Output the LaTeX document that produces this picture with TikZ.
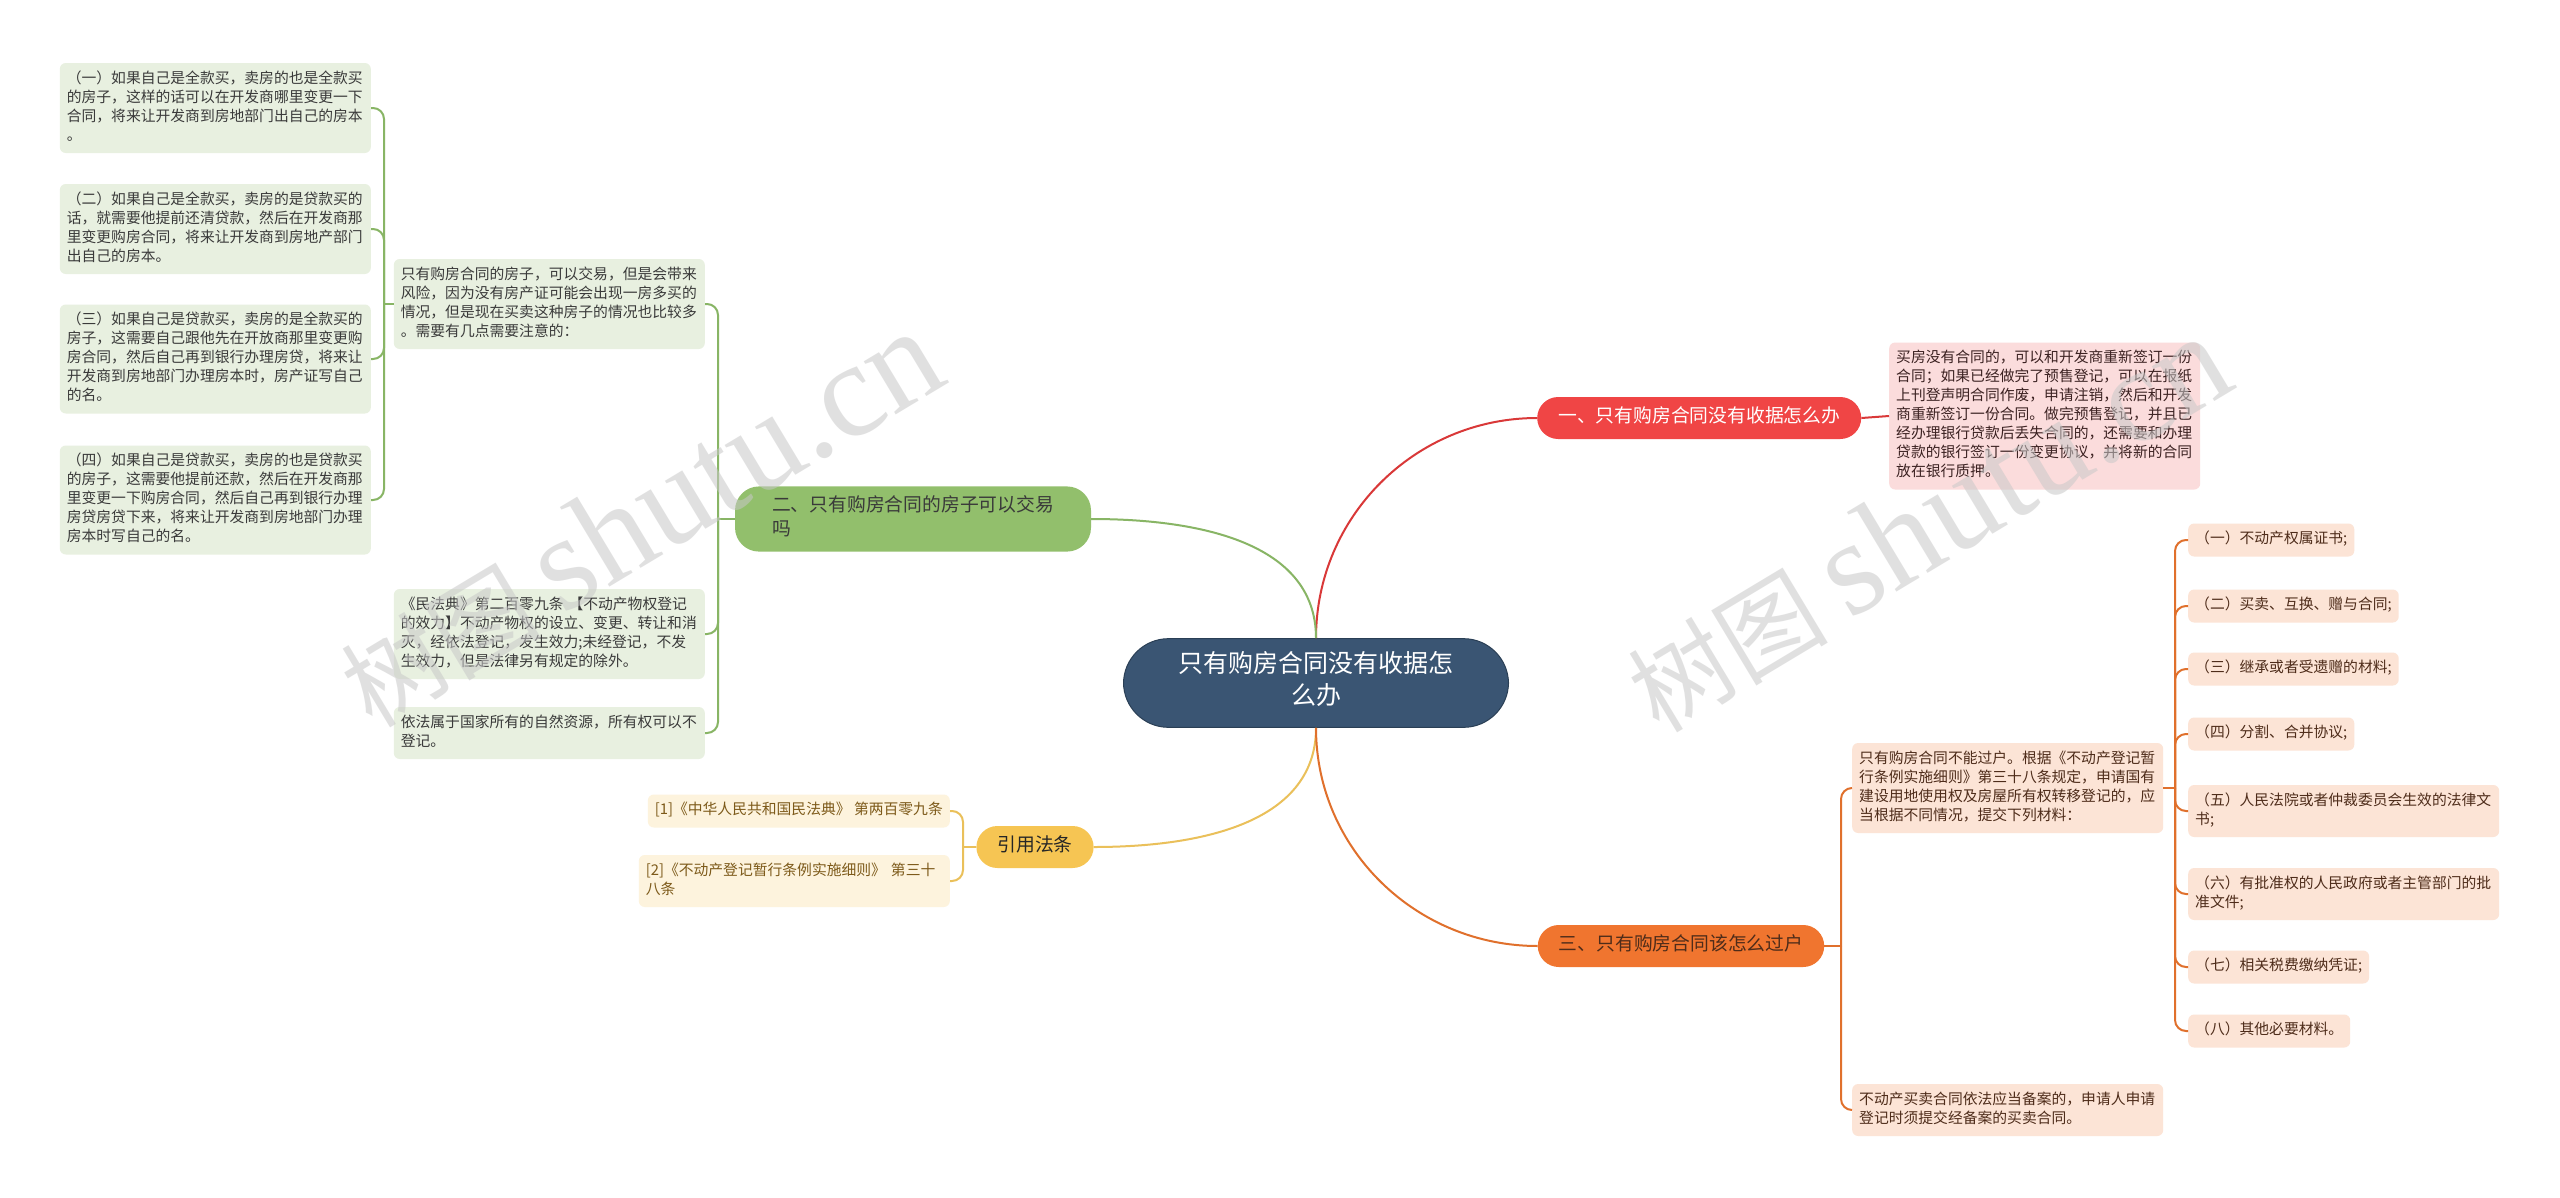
\documentclass[tikz,border=0pt]{standalone}
\usepackage{fontspec}
\setmainfont{Noto Sans CJK SC}
\newfontfamily\markfont{Liberation Serif}
\usepackage{xcolor}
\definecolor{mapRoot}{HTML}{3A5573}
\definecolor{mapRootLine}{HTML}{2A3F55}
\definecolor{mapRed}{HTML}{F04545}
\definecolor{mapRedLine}{HTML}{D93838}
\definecolor{mapRedLeaf}{HTML}{FBDCDC}
\definecolor{mapRedText}{HTML}{3C2222}
\definecolor{mapGreen}{HTML}{92BF6C}
\definecolor{mapGreenLine}{HTML}{88B565}
\definecolor{mapGreenLeaf}{HTML}{E8F0E0}
\definecolor{mapGreenText}{HTML}{3A3A3A}
\definecolor{mapYellow}{HTML}{F6C553}
\definecolor{mapYellowLine}{HTML}{EAC05A}
\definecolor{mapYellowLeaf}{HTML}{FDF3DD}
\definecolor{mapYellowText}{HTML}{7D5A1A}
\definecolor{mapOrange}{HTML}{F0752F}
\definecolor{mapOrangeLine}{HTML}{E0702C}
\definecolor{mapOrangeLeaf}{HTML}{FCE4D6}
\definecolor{mapOrangeText}{HTML}{4E2C1A}
\definecolor{mapMark}{HTML}{C8C8C8}
\usetikzlibrary{positioning}

\tikzset{
  rootnode/.style={fill=mapRoot, draw=mapRootLine, line width=1pt, text=white,
    rounded corners=45pt, inner xsep=55pt, inner ysep=13pt, align=center,
    font=\fontsize{25}{32}\selectfont,
    execute at begin node=\strut, execute at end node=\strut},
  branchnode/.style={rounded corners=21pt, inner xsep=21pt, inner ysep=9pt,
    font=\fontsize{18.8}{24}\selectfont,
    execute at begin node=\strut, execute at end node=\strut},
  leafnode/.style={rounded corners=6pt, inner xsep=7pt, inner ysep=7pt, align=left,
    font=\fontsize{14.8}{19}\selectfont,
    execute at begin node=\strut, execute at end node=\strut},
  wideleaf/.style={text width=297pt},
  conn/.style={line width=2pt},
  marktext/.style={rotate=31, text=mapMark, opacity=0.55}
}

\begin{document}
\begin{tikzpicture}[x=1pt, y=-1pt]
  \useasboundingbox (0,0) rectangle (2560,1197);
  \fill[white] (0,0) rectangle (2560,1197);

  \node[rootnode] (root) at (1316,683) {只有购房合同没有收据怎\\么办};

  % branch one
  \node[branchnode, fill=mapRed, text=white, anchor=west] (brA) at (1537,418) {一、只有购房合同没有收据怎么办};
  \node[leafnode, wideleaf, fill=mapRedLeaf, text=mapRedText, anchor=west] (lfA) at (1889,416)
    {买房没有合同的，可以和开发商重新签订一份\\合同；如果已经做完了预售登记，可以在报纸\\上刊登声明合同作废，申请注销，然后和开发\\商重新签订一份合同。做完预售登记，并且已\\经办理银行贷款后丢失合同的，还需要和办理\\贷款的银行签订一份变更协议，并将新的合同\\放在银行质押。};

  % branch two
  \node[branchnode, fill=mapGreen, text=mapGreenText, align=left, rounded corners=24pt, inner xsep=37pt] (brB) at (913,519) {二、只有购房合同的房子可以交易\\吗};
  \node[leafnode, wideleaf, fill=mapGreenLeaf, text=mapGreenText, anchor=east] (g1) at (705,304)
    {只有购房合同的房子，可以交易，但是会带来\\风险，因为没有房产证可能会出现一房多买的\\情况，但是现在买卖这种房子的情况也比较多\\。需要有几点需要注意的：};
  \node[leafnode, wideleaf, fill=mapGreenLeaf, text=mapGreenText, anchor=east] (g2) at (705,634)
    {《民法典》第二百零九条 【不动产物权登记\\的效力】不动产物权的设立、变更、转让和消\\灭，经依法登记，发生效力;未经登记，不发\\生效力，但是法律另有规定的除外。};
  \node[leafnode, wideleaf, fill=mapGreenLeaf, text=mapGreenText, anchor=east] (g3) at (705,733)
    {依法属于国家所有的自然资源，所有权可以不\\登记。};
  \node[leafnode, wideleaf, fill=mapGreenLeaf, text=mapGreenText, anchor=east] (s1) at (371,108)
    {（一）如果自己是全款买，卖房的也是全款买\\的房子，这样的话可以在开发商哪里变更一下\\合同，将来让开发商到房地部门出自己的房本\\。};
  \node[leafnode, wideleaf, fill=mapGreenLeaf, text=mapGreenText, anchor=east] (s2) at (371,229)
    {（二）如果自己是全款买，卖房的是贷款买的\\话，就需要他提前还清贷款，然后在开发商那\\里变更购房合同，将来让开发商到房地产部门\\出自己的房本。};
  \node[leafnode, wideleaf, fill=mapGreenLeaf, text=mapGreenText, anchor=east] (s3) at (371,359)
    {（三）如果自己是贷款买，卖房的是全款买的\\房子，这需要自己跟他先在开放商那里变更购\\房合同，然后自己再到银行办理房贷，将来让\\开发商到房地部门办理房本时，房产证写自己\\的名。};
  \node[leafnode, wideleaf, fill=mapGreenLeaf, text=mapGreenText, anchor=east] (s4) at (371,500)
    {（四）如果自己是贷款买，卖房的也是贷款买\\的房子，这需要他提前还款，然后在开发商那\\里变更一下购房合同，然后自己再到银行办理\\房贷房贷下来，将来让开发商到房地部门办理\\房本时写自己的名。};

  % cited laws
  \node[branchnode, fill=mapYellow, text=black!85] (brC) at (1035,847) {引用法条};
  \node[leafnode, fill=mapYellowLeaf, text=mapYellowText, anchor=east] (y1) at (950,811) {[1]《中华人民共和国民法典》 第两百零九条};
  \node[leafnode, wideleaf, fill=mapYellowLeaf, text=mapYellowText, anchor=east] (y2) at (950,881) {[2]《不动产登记暂行条例实施细则》 第三十\\八条};

  % branch three
  \node[branchnode, fill=mapOrange, text=mapOrangeText] (brD) at (1681,946) {三、只有购房合同该怎么过户};
  \node[leafnode, wideleaf, fill=mapOrangeLeaf, text=mapOrangeText, anchor=west] (o1) at (1852,788)
    {只有购房合同不能过户。根据《不动产登记暂\\行条例实施细则》第三十八条规定，申请国有\\建设用地使用权及房屋所有权转移登记的，应\\当根据不同情况，提交下列材料：};
  \node[leafnode, wideleaf, fill=mapOrangeLeaf, text=mapOrangeText, anchor=west] (o2) at (1852,1110)
    {不动产买卖合同依法应当备案的，申请人申请\\登记时须提交经备案的买卖合同。};
  \node[leafnode, fill=mapOrangeLeaf, text=mapOrangeText, anchor=west] (m1) at (2188,540) {（一）不动产权属证书;};
  \node[leafnode, fill=mapOrangeLeaf, text=mapOrangeText, anchor=west] (m2) at (2188,606) {（二）买卖、互换、赠与合同;};
  \node[leafnode, fill=mapOrangeLeaf, text=mapOrangeText, anchor=west] (m3) at (2188,669) {（三）继承或者受遗赠的材料;};
  \node[leafnode, fill=mapOrangeLeaf, text=mapOrangeText, anchor=west] (m4) at (2188,734) {（四）分割、合并协议;};
  \node[leafnode, wideleaf, fill=mapOrangeLeaf, text=mapOrangeText, anchor=west] (m5) at (2188,811) {（五）人民法院或者仲裁委员会生效的法律文\\书;};
  \node[leafnode, wideleaf, fill=mapOrangeLeaf, text=mapOrangeText, anchor=west] (m6) at (2188,894) {（六）有批准权的人民政府或者主管部门的批\\准文件;};
  \node[leafnode, fill=mapOrangeLeaf, text=mapOrangeText, anchor=west] (m7) at (2188,967) {（七）相关税费缴纳凭证;};
  \node[leafnode, fill=mapOrangeLeaf, text=mapOrangeText, anchor=west] (m8) at (2188,1031) {（八）其他必要材料。};

  % connectors
  \draw[conn, mapRedLine] (root.north) to[out=90, in=180] (brA.west);
  \draw[conn, mapGreenLine] (root.north) to[out=90, in=0] (brB.east);
  \draw[conn, mapYellowLine] (root.south) to[out=-90, in=0] (brC.east);
  \draw[conn, mapOrangeLine] (root.south) to[out=-90, in=180] (brD.west);
  \draw[conn, mapRedLine] (brA.east) -- (lfA.west);

  \coordinate (gB) at (718,519);
  \draw[conn, mapGreenLine] (brB.west) -- (gB);
  \foreach \n in {g1,g2,g3}
    \draw[conn, mapGreenLine, rounded corners=11pt] (gB) |- (\n.east);
  \coordinate (gS) at (384,304);
  \draw[conn, mapGreenLine] (g1.west) -- (gS);
  \foreach \n in {s1,s2,s3,s4}
    \draw[conn, mapGreenLine, rounded corners=11pt] (gS) |- (\n.east);

  \coordinate (yB) at (963,847);
  \draw[conn, mapYellowLine] (brC.west) -- (yB);
  \foreach \n in {y1,y2}
    \draw[conn, mapYellowLine, rounded corners=11pt] (yB) |- (\n.east);

  \coordinate (oB) at (1841,946);
  \draw[conn, mapOrangeLine] (brD.east) -- (oB);
  \foreach \n in {o1,o2}
    \draw[conn, mapOrangeLine, rounded corners=11pt] (oB) |- (\n.west);
  \coordinate (oM) at (2175,788);
  \draw[conn, mapOrangeLine] (o1.east) -- (oM);
  \foreach \n in {m1,m2,m3,m4,m5,m6,m7,m8}
    \draw[conn, mapOrangeLine, rounded corners=11pt] (oM) |- (\n.west);

  % watermark
  \node[marktext] (wmA) at (640,519) {\fontsize{100}{100}\selectfont 树图 {\markfont\fontsize{135}{135}\selectfont shutu.cn}};
  \node[marktext] (wmB) at (1927,524) {\fontsize{100}{100}\selectfont 树图 {\markfont\fontsize{135}{135}\selectfont shutu.cn}};
\end{tikzpicture}
\end{document}
